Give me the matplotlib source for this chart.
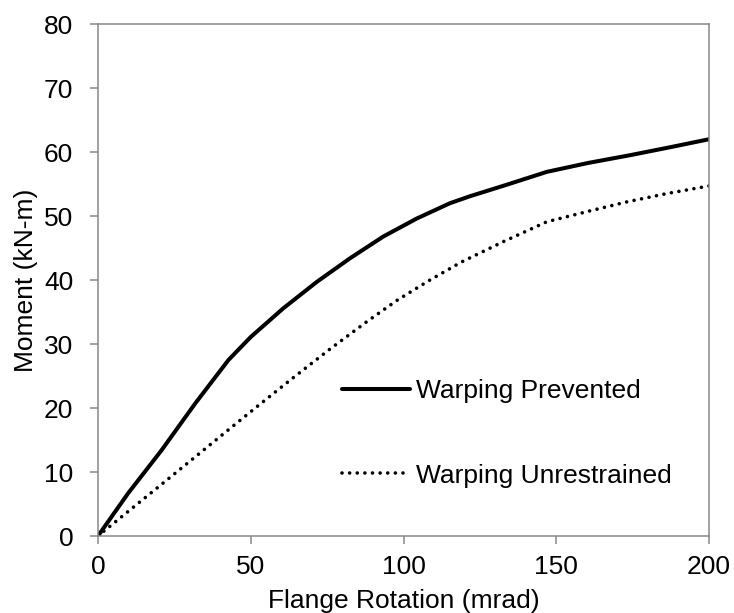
import numpy as np
import matplotlib
matplotlib.use("Agg")
import matplotlib.pyplot as plt

# ---------------------------
# Data
# ---------------------------
rot_prevented = [0, 9.9, 20.8, 31.8, 42.7, 50, 60.7, 71.6, 82.5, 93.4, 104.3,
                 115.2, 121.8, 133.2, 146.9, 160.5, 174.1, 187.8, 200]
mom_prevented = [0, 6.7, 13.4, 20.7, 27.5, 31.1, 35.6, 39.7, 43.4, 46.8, 49.6,
                 52.0, 53.1, 54.8, 56.9, 58.3, 59.5, 60.8, 62.0]

rot_unrestrained = [0, 7.2, 19.2, 30.9, 42.7, 52.0, 63.8, 75.9, 88, 98.1, 108.3,
                    118.9, 132.7, 146.9, 161, 173, 186.1, 200]
mom_unrestrained = [0, 2.8, 7.45, 12.0, 16.6, 20.2, 24.7, 29.2, 33.5, 36.9, 39.9,
                    42.8, 46.0, 49.1, 50.8, 52.2, 53.5, 54.7]

x_ticks = [0, 50, 100, 150, 200]
y_ticks = [0, 10, 20, 30, 40, 50, 60, 70, 80]

plt.rcParams['font.family'] = ['Liberation Sans', 'DejaVu Sans']
FS = 19

fig = plt.figure(figsize=(7.34, 6.13), dpi=100)
ax = fig.add_axes([0.1335, 0.1256, 0.8325, 0.8352])

ax.plot(rot_prevented, mom_prevented, color='black', lw=2.9,
        solid_capstyle='round', solid_joinstyle='round',
        label='Warping Prevented')
ax.plot(rot_unrestrained, mom_unrestrained, color='black', lw=2.6,
        linestyle=(0, (0.01, 2.1)), dash_capstyle='round',
        label='Warping Unrestrained')

ax.set_xlim(0, 200)
ax.set_ylim(0, 80)
ax.set_xticks(x_ticks)
ax.set_yticks(y_ticks)

# Gray frame and ticks
for side in ax.spines.values():
    side.set_color('#898989')
    side.set_linewidth(1.1)
ax.tick_params(axis='both', colors='#898989', labelcolor='black',
               length=5.8, width=1.1, labelsize=FS)
ax.tick_params(axis='y', pad=12)
ax.tick_params(axis='x', pad=8)

ax.set_xlabel('Flange Rotation (mrad)', fontsize=FS, labelpad=7)
ax.set_ylabel('Moment (kN-m)', fontsize=FS, labelpad=4)

ax.legend(loc='upper left', bbox_to_anchor=(0.399, 0.307), frameon=False,
          fontsize=FS, handlelength=2.6, handletextpad=0.22,
          labelspacing=2.3, borderpad=0, borderaxespad=0)

fig.savefig('out.png', dpi=100)
